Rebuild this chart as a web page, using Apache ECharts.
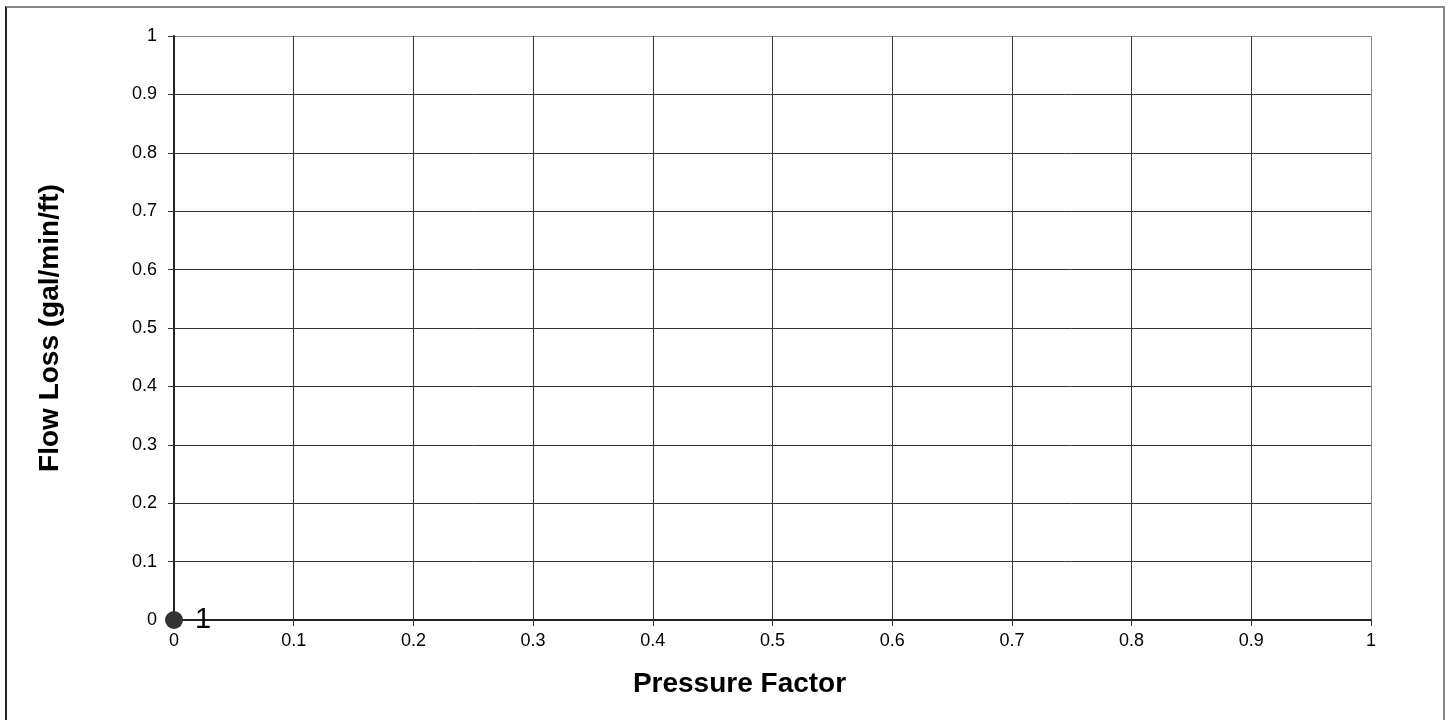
<!DOCTYPE html>
<html>
<head>
<meta charset="utf-8">
<script src="https://cdn.jsdelivr.net/npm/echarts@6/dist/echarts.min.js"></script>
<style>
html,body{margin:0;padding:0;background:#fff;}
#frame{position:absolute;left:5px;top:6px;width:1440px;height:760px;border-left:2px solid #222;border-top:2px solid #888;border-right:2px solid #888;box-sizing:border-box;}
#chart{position:absolute;left:0;top:0;width:1450px;height:720px;}
</style>
</head>
<body>
<div id="frame"></div>
<div id="chart"></div>
<script>
const xTicks = [0,0.1,0.2,0.3,0.4,0.5,0.6,0.7,0.8,0.9,1];
const yTicks = [0,0.1,0.2,0.3,0.4,0.5,0.6,0.7,0.8,0.9,1];
const pointX = [0];
const pointY = [0];
const pointLabels = ['1'];

const FONT = '"Liberation Sans", Arial, sans-serif';
const gridColors = yTicks.map((v,i)=> i === yTicks.length-1 ? '#8a8a8a' : '#333');
const chart = echarts.init(document.getElementById('chart'), null, {renderer:'canvas'});
const axisCommon = {
  type:'value', min:0, max:1, interval:0.1,
  axisLabel:{color:'#000', fontFamily:FONT, fontSize:18, formatter:v=>String(Math.round(v*10)/10)},
  axisTick:{show:true, length:6, lineStyle:{color:'#333'}},
  splitLine:{show:true, lineStyle:{color:gridColors, width:1}},
  nameTextStyle:{color:'#000', fontFamily:FONT, fontSize:28, fontWeight:'bold'}
};
chart.setOption({
  animation:false,
  backgroundColor:'transparent',
  grid:{left:174, right:79, top:36, bottom:100},
  xAxis:Object.assign({}, axisCommon, {
    name:'Pressure Factor', nameLocation:'middle', nameGap:50,
    nameTextStyle:Object.assign({}, axisCommon.nameTextStyle, {padding:[0,66,0,0]}),
    axisLine:{show:true, onZero:false, lineStyle:{color:'#222', width:2}},
    axisLabel:Object.assign({}, axisCommon.axisLabel, {margin:12})
  }),
  yAxis:Object.assign({}, axisCommon, {
    name:'Flow Loss (gal/min/ft)', nameLocation:'middle', nameGap:110,
    axisLine:{show:true, onZero:false, lineStyle:{color:'#222', width:2}},
    axisLabel:Object.assign({}, axisCommon.axisLabel, {margin:17})
  }),
  series:[{
    type:'scatter',
    data:pointX.map((x,i)=>[x, pointY[i], pointLabels[i]]),
    symbol:'circle', symbolSize:18,
    itemStyle:{color:'#333', opacity:1},
    label:{show:true, position:'right', distance:12, formatter:p=>p.data[2], color:'#000', fontFamily:FONT, fontSize:29},
    clip:false,
    z:10
  }]
});
</script>
</body>
</html>
